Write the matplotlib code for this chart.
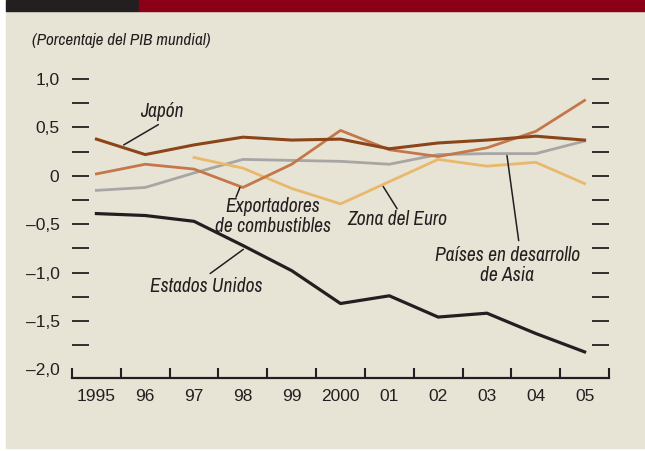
import numpy as np
import matplotlib
matplotlib.use('Agg')
import matplotlib.pyplot as plt
from matplotlib.patches import Rectangle

# data (share of world GDP, %)
years = ['1995', '96', '97', '98', '99', '2000', '01', '02', '03', '04', '05']
japon = [0.38, 0.22, 0.32, 0.40, 0.37, 0.38, 0.28, 0.34, 0.37, 0.41, 0.37]
exportadores = [0.02, 0.12, 0.07, -0.12, 0.12, 0.47, 0.27, 0.20, 0.29, 0.46, 0.78]
asia = [-0.15, -0.12, 0.03, 0.17, 0.16, 0.15, 0.12, 0.22, 0.23, 0.23, 0.36]
euro = [np.nan, np.nan, 0.19, 0.08, -0.13, -0.29, -0.06, 0.17, 0.10, 0.14, -0.08]
eeuu = [-0.39, -0.41, -0.47, -0.72, -0.98, -1.32, -1.24, -1.46, -1.42, -1.63, -1.82]

ytick_vals = [1.0, 0.5, 0.0, -0.5, -1.0, -1.5, -2.0]
ytick_labels = ['1,0', '0,5', '0', '\u20130,5', '\u20131,0', '\u20131,5', '\u20132,0']

BG = '#E7E4D6'
INK = '#231F20'
NARROW = ['Archivo Narrow', 'Liberation Sans', 'DejaVu Sans']
TICKS = ['Liberation Sans', 'DejaVu Sans']
plt.rcParams['font.family'] = NARROW

W, H = 645, 451
fig = plt.figure(figsize=(W / 100, H / 100), dpi=100)
fig.patch.set_facecolor('white')


def px_rect(x0, y0, x1, y1, color):
  fig.patches.append(Rectangle((x0 / W, 1 - y1 / H), (x1 - x0) / W, (y1 - y0) / H,
                               transform=fig.transFigure, color=color, zorder=-5))


px_rect(6, 0, 645, 448, BG)
px_rect(6, 0, 139, 11, INK)
px_rect(139, 0, 645, 11, '#8A0017')

fig.text(32 / W, 1 - 40 / H, '(Porcentaje del PIB mundial)', fontsize=12.3,
         style='italic', color=INK, va='center', ha='left')

ax = fig.add_axes([72 / W, (H - 378) / H, 537 / W, 303.7 / H])
ax.set_facecolor('none')

x = np.arange(len(years))
ax.plot(x, asia, color='#A7A6A4', lw=2.0)
ax.plot(x, euro, color='#E9B86C', lw=2.0)
ax.plot(x, exportadores, color='#C5774C', lw=2.0)
ax.plot(x, japon, color='#8B4518', lw=2.2)
ax.plot(x, eeuu, color=INK, lw=2.3)

ax.set_xlim(-0.5, 10.5)
ax.set_ylim(-2.09, 1.05)

for s in ['left', 'right', 'top']:
  ax.spines[s].set_visible(False)
ax.spines['bottom'].set_color(INK)
ax.spines['bottom'].set_linewidth(1.6)

ax.set_xticks(x)
ax.set_xticklabels(years, family=TICKS)
ax.set_xticks(np.arange(-0.5, 11, 1), minor=True)
ax.tick_params(axis='x', which='major', length=0, pad=8, labelsize=12.5, labelcolor=INK)
ax.tick_params(axis='x', which='minor', direction='in', length=7, width=1.5, color=INK)

ax.set_yticks(ytick_vals)
ax.set_yticklabels(ytick_labels, family=TICKS)
ax.set_yticks(np.arange(-1.75, 1.0, 0.5), minor=True)
ax.tick_params(axis='y', which='both', direction='in', length=12, width=1.3,
               color=INK, left=True, right=True, labelright=False)
ax.tick_params(axis='y', which='major', pad=9, labelsize=12.5, labelcolor=INK)
last = ax.yaxis.get_major_ticks()[-1]
last.tick1line.set_visible(False)
last.tick2line.set_visible(False)

lbl = dict(fontsize=14, style='italic', color=INK, ha='center', va='center',
           linespacing=1.05)
arr = dict(arrowstyle='-', color=INK, lw=1.1, shrinkA=0, shrinkB=0)


def label(text, xy_from, xy_to, xy_text):
  ax.text(*xy_text, text, **lbl)
  ax.annotate('', xy=xy_to, xytext=xy_from, arrowprops=arr)


label('Japón', (1.27, 0.53), (0.56, 0.32), (1.34, 0.665))
label('Exportadores\nde combustibles', (2.94, -0.12), (2.86, -0.22), (3.61, -0.42))
label('Zona del Euro', (5.875, -0.11), (6.16, -0.34), (6.16, -0.45))
label('Países en desarrollo\nde Asia', (8.41, 0.21), (8.65, -0.67), (8.415, -0.93))
label('Estados Unidos', (3.01, -0.76), (2.33, -1.01), (2.24, -1.14))

fig.savefig('out.png', dpi=100, facecolor=fig.get_facecolor())
